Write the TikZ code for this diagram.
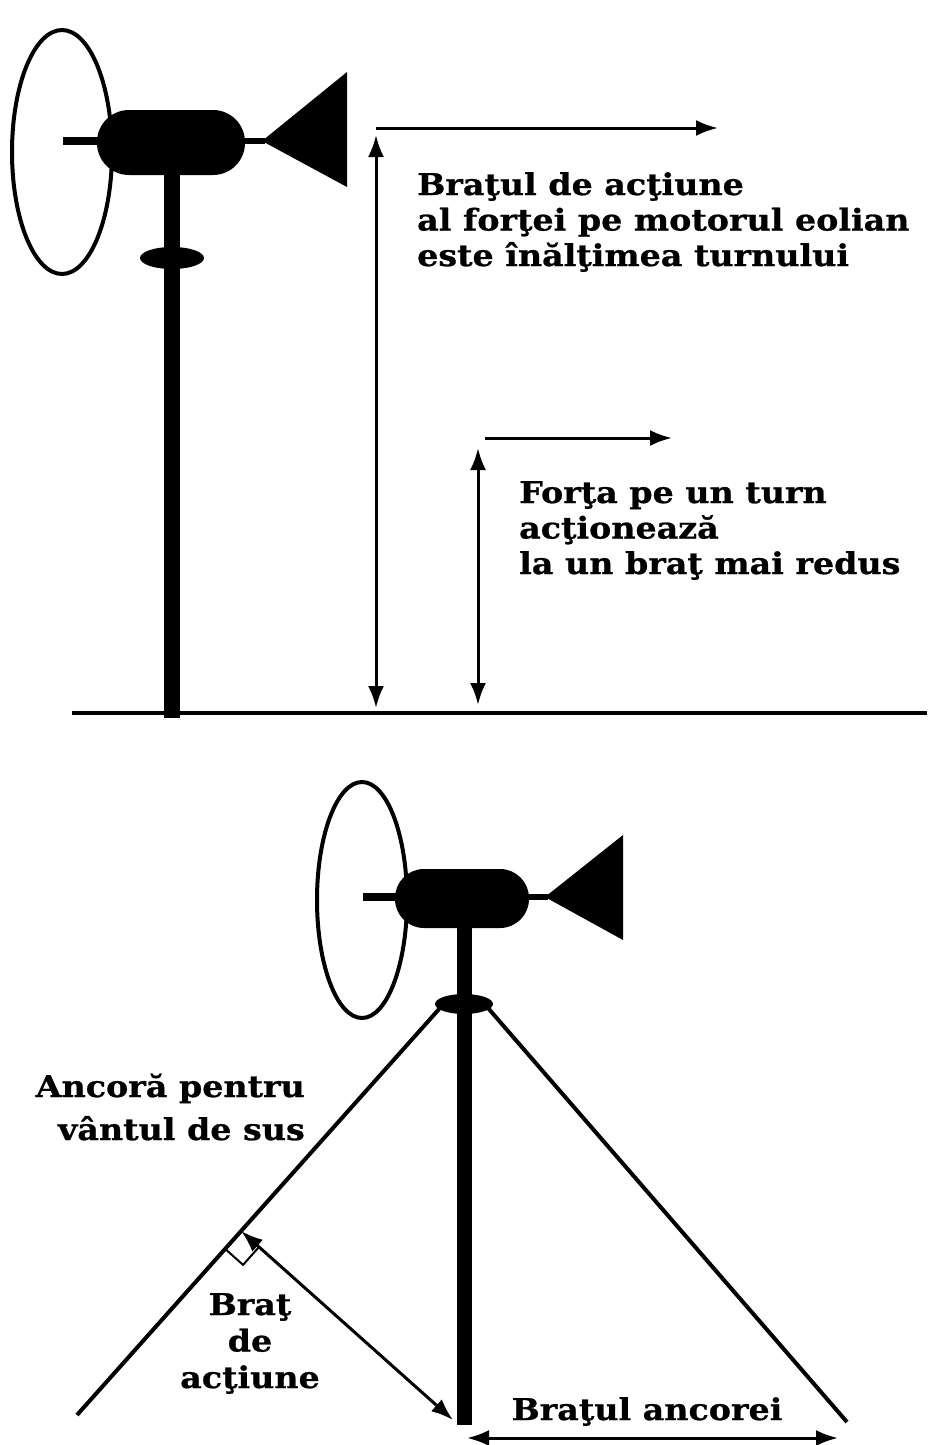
\documentclass[tikz,border=0pt]{standalone}
\usepackage{fontspec}
\setmainfont{DejaVu Serif}
\newfontfamily\capfont{DejaVu Serif}[FakeStretch=1.11,BoldFeatures={FakeBold=0.8}]
\usetikzlibrary{arrows.meta,calc}
\begin{document}
\begin{tikzpicture}[x=1pt,y=-1pt,
  rotor/.style={draw,line width=4pt},
  guy/.style={line width=4pt},
  tip/.style={Latex[length=22pt,width=16pt]},
  dim/.style={line width=3pt,{Latex[length=22pt,width=16pt]}-{Latex[length=22pt,width=16pt]}},
  wind/.style={line width=3pt,-{Latex[length=22pt,width=16pt]}},
  caption/.style={font=\capfont\bfseries\fontsize{30}{35.5}\selectfont,inner sep=0pt}]
\useasboundingbox (0,0) rectangle (927,1445);

% ---- upper turbine on a free-standing tower ----
\draw[rotor] (62,152) ellipse [x radius=50, y radius=122];
\fill (63,137) rectangle (110,145);
\fill[rounded corners=32pt] (97,110) rectangle (245,175);
\fill (240,138) rectangle (265,144);
\fill (262,141) -- (347,72) -- (347,187) -- cycle;
\fill (164,170) rectangle (180,718);
\fill (172,258) ellipse [x radius=32, y radius=11];
\draw[line width=4pt] (72,713) -- (927,713);

\coordinate (h1top) at (376,135);
\coordinate (h1bot) at (376,708);
\coordinate (w1a) at (376,128);
\coordinate (w1b) at (718,128);
\draw[dim] (h1top) -- (h1bot);
\draw[wind] (w1a) -- (w1b);
\node[caption,anchor=base west,align=left] (txtA) at (417,266)
  {Braţul de acţiune\\al forţei pe motorul eolian\\este înălţimea turnului};

\coordinate (h2top) at (478,448);
\coordinate (h2bot) at (478,705);
\coordinate (w2a) at (485,438);
\coordinate (w2b) at (672,438);
\draw[dim] (h2top) -- (h2bot);
\draw[wind] (w2a) -- (w2b);
\node[caption,anchor=base west,align=left] (txtB) at (519,574)
  {Forţa pe un turn\\acţionează\\la un braţ mai redus};

% ---- lower turbine on a guyed tower ----
\draw[rotor] (362,900) ellipse [x radius=45, y radius=118];
\fill (363,893) rectangle (400,901);
\fill[rounded corners=29pt] (395,869) rectangle (529,928);
\fill (525,894) rectangle (548,900);
\fill (545,897) -- (623,835) -- (623,940) -- cycle;
\fill (457,920) rectangle (472,1425);
\fill (464,1004) ellipse [x radius=29, y radius=10];

\coordinate (gLtop) at (440,1008);
\coordinate (gLbot) at (77,1415);
\coordinate (gRtop) at (488,1008);
\coordinate (gRbot) at (847,1422);
\draw[guy] (gLtop) -- (gLbot);
\draw[guy] (gRtop) -- (gRbot);

\coordinate (base) at (453,1420);
\coordinate (foot) at ($(gLtop)!(base)!(gLbot)$);
\coordinate (sqA) at ($(foot)!24pt!(gLbot)$);
\coordinate (sqB) at ($(foot)!24pt!(base)$);
\draw[line width=2pt] (sqA) -- ($(sqA)+(sqB)-(foot)$) -- (sqB);
\draw[dim] (foot) -- (base);

\coordinate (anL) at (467,1438);
\coordinate (anR) at (838,1438);
\draw[dim] (anL) -- (anR);

\node[caption,font=\capfont\bfseries\fontsize{30}{43}\selectfont,anchor=base east,align=right] (txtC) at (305,1140)
  {Ancoră pentru\\vântul de sus};
\node[caption,font=\capfont\bfseries\fontsize{30}{36.5}\selectfont,anchor=base,align=center] (txtD) at (250,1388)
  {Braţ\\de\\acţiune};
\node[caption,anchor=base] (txtE) at (647,1420) {Braţul ancorei};
\end{tikzpicture}
\end{document}
